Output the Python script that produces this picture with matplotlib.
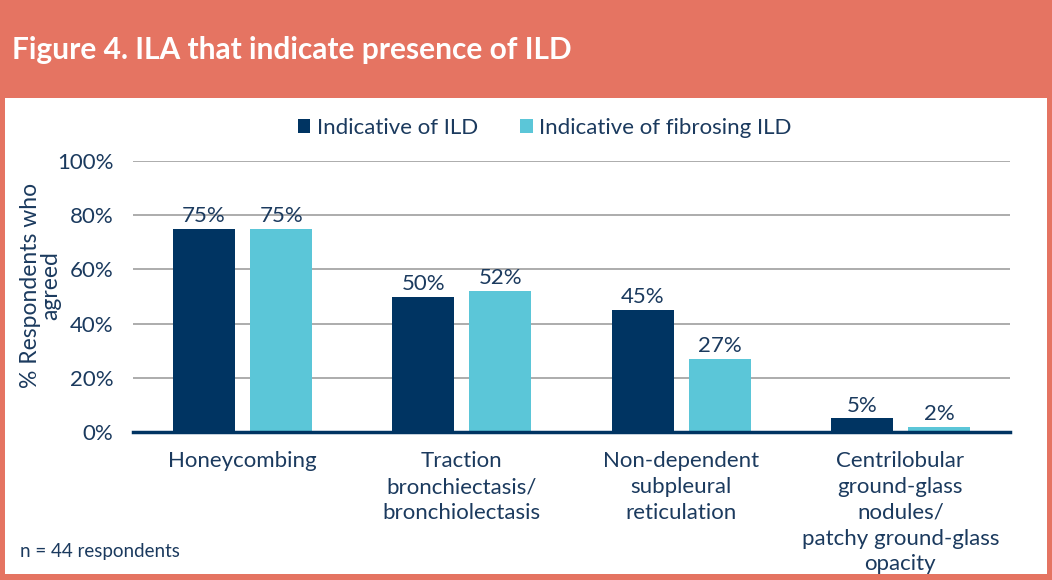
import matplotlib.pyplot as plt
import numpy as np
from matplotlib.patches import Rectangle

categories = ['Honeycombing', 'Traction\nbronchiectasis/\nbronchiolectasis',
              'Non-dependent\nsubpleural\nreticulation',
              'Centrilobular\nground-glass\nnodules/\npatchy ground-glass\nopacity']
ild = [75, 50, 45, 5]
fibrosing = [75, 52, 27, 2]
series_names = ['Indicative of ILD', 'Indicative of fibrosing ILD']

coral = '#E57462'
navy = '#003462'
cyan = '#5BC6D8'
txt = '#1B3A5E'

plt.rcParams['font.family'] = ['Lato', 'DejaVu Sans']

fig = plt.figure(figsize=(10.52, 5.8), dpi=100)
fig.patch.set_facecolor(coral)
fig.patches.append(Rectangle((5 / 1052, 6 / 580), 1042 / 1052, 476 / 580,
                             transform=fig.transFigure, facecolor='white',
                             edgecolor='none', zorder=-5))
fig.text(12 / 1052, 1 - 50 / 580, 'Figure 4. ILA that indicate presence of ILD',
         color='white', fontsize=21.5, fontweight='bold', va='center', ha='left')
fig.text(20 / 1052, 1 - 552 / 580, 'n = 44 respondents', color=txt,
         fontsize=13.5, va='center', ha='left')

ax = fig.add_axes([133 / 1052, 148 / 580, 877 / 1052, 271 / 580])
ax.set_zorder(2)
ax.set_facecolor('none')
x = np.arange(len(categories))
w = 0.283
off = 0.176
b1 = ax.bar(x - off, ild, w, color=navy, label=series_names[0], zorder=3)
b2 = ax.bar(x + off, fibrosing, w, color=cyan, label=series_names[1], zorder=3)
for bars in (b1, b2):
    for r in bars:
        ax.text(r.get_x() + r.get_width() / 2, r.get_height() + 1,
                f'{r.get_height():.0f}%', ha='center', va='bottom',
                color=txt, fontsize=16)

ax.set_xlim(-0.5, 3.5)
ax.set_ylim(0, 100)
ax.set_yticks(range(0, 101, 20))
ax.set_yticklabels([f'{v}%' for v in range(0, 101, 20)])
ax.set_xticks(x)
ax.set_xticklabels(categories, linespacing=1.36)
ax.tick_params(axis='both', length=0, colors=txt, labelsize=16)
ax.tick_params(axis='x', pad=14)
ax.tick_params(axis='y', pad=14)
ax.grid(axis='y', color='#A6A6A6', linewidth=1.3, zorder=0)
for s in ['top', 'right', 'left']:
    ax.spines[s].set_visible(False)
ax.spines['bottom'].set_color(navy)
ax.spines['bottom'].set_linewidth(2.5)
ax.spines['bottom'].set_zorder(4)
ax.set_ylabel('% Respondents who\nagreed', color=txt, fontsize=16.5,
              linespacing=0.95)
ax.yaxis.set_label_coords(-0.082, 0.54)

ax.legend(loc='center', bbox_to_anchor=(545 / 1052, 1 - 128 / 580),
          bbox_transform=fig.transFigure, ncol=2, frameon=False,
          fontsize=16, labelcolor=txt, handlelength=0.55, handleheight=0.55,
          handletextpad=0.3, columnspacing=1.9)

fig.savefig('out.png', dpi=100, facecolor=fig.get_facecolor())
